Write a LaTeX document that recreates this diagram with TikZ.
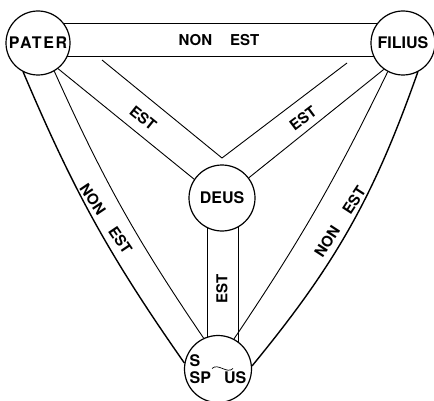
\documentclass[tikz,border=0pt]{standalone}
\usepackage{fontspec}
\setmainfont{TeX Gyre Heros}
\usetikzlibrary{calc,backgrounds}
\tikzset{
  person/.style={circle, draw, fill=white, line width=1.2pt, inner sep=0pt,
                 font=\fontsize{16}{17}\selectfont\bfseries},
  band/.style={line width=0.9pt},
  rim/.style={line width=1.4pt},
  word/.style={inner sep=0pt, font=\fontsize{15}{16}\selectfont\bfseries},
}
\newcommand{\wgap}{\hspace{1.2em}}
\begin{document}
\begin{tikzpicture}[x=1pt,y=1pt]
\useasboundingbox (0,0) rectangle (434,400);

% -----------------------------------------
% the four circles
% -----------------------------------------
\node[person, minimum size=64pt] (pater) at (38,357) {\addfontfeature{LetterSpace=10}PATER};
\node[person, minimum size=64pt] (filius) at (403,357) {FILIUS};
\node[person, minimum size=66pt] (deus) at (222,202) {DEUS};
\node[person, minimum size=67pt, align=left] (spiritus) at (218,31) {S\\SP\hspace{13pt}US};

% tilde of the abbreviation
\coordinate (tl) at ($(spiritus.center)+(-6,0.5)$);
\coordinate (tr) at ($(spiritus.center)+(15,0.5)$);
\draw[line width=0.7pt] (tl) .. controls +(6,6) and +(-6,-6) .. (tr);

% -----------------------------------------
% bands
% -----------------------------------------
\coordinate (topup) at (0,376.5);
\coordinate (toplo) at (0,344);
\coordinate (ul) at (102,340);
\coordinate (ur) at (347,337);
\coordinate (apex) at (222,242);

\begin{scope}[on background layer]
% top band
\draw[rim] (pater |- topup) -- (filius |- topup);
\draw[band] (pater |- toplo) -- (filius |- toplo);

% inner bands to deus
\draw[band] (ul) -- (apex) -- (ur);
\draw[band] (pater.-52) -- (deus.146);
\draw[band] (filius.234) -- (deus.37);
\draw[band] ([xshift=-15pt]deus.center) -- ([xshift=-15pt]deus.center |- spiritus.center);
\draw[band] ([xshift=16pt]deus.center) -- ([xshift=16pt]deus.center |- spiritus.center);

% outer bands to spiritus
\draw[rim] (pater.243) to[bend right=6] (spiritus.170);
\draw[band] (pater.-60) to[bend right=5] (spiritus.115);
\draw[rim] (filius.-63) to[bend left=10] (spiritus.5);
\draw[band] (filius.242) to[bend left=4] (spiritus.62);
\end{scope}

% -----------------------------------------
% labels
% -----------------------------------------
\node[word] (nontop) at (219,360) {NON\wgap EST};
\node[word, rotate=-39] (estl) at (143,282) {EST};
\node[word, rotate=37] (estr) at (303,282) {EST};
\node[word, rotate=90] (estv) at (222,111) {EST};
\node[word, rotate=-56] (nonl) at (106,181) {NON\wgap EST};
\node[word, rotate=57] (nonr) at (340,178) {NON\wgap EST};
\end{tikzpicture}
\end{document}
